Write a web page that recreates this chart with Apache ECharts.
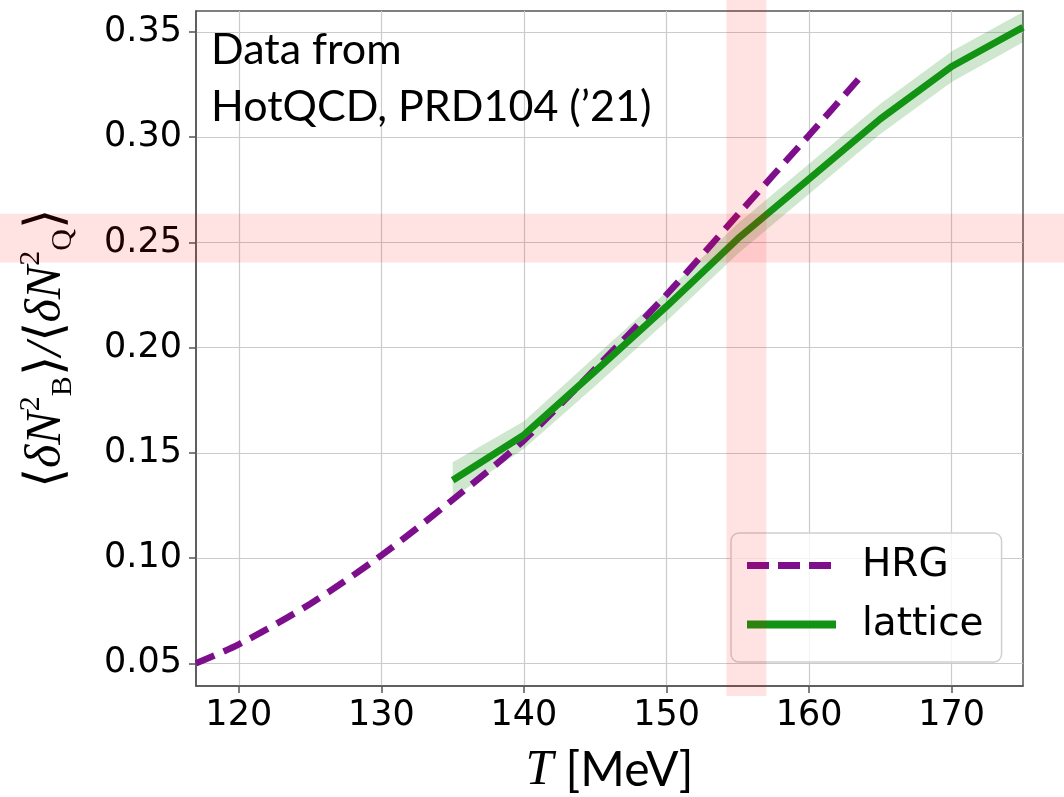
<!DOCTYPE html>
<html>
<head>
<meta charset="utf-8">
<script src="https://cdn.jsdelivr.net/npm/echarts@6/dist/echarts.min.js"></script>
<style>
  html, body { margin: 0; padding: 0; background: #fff; }
  #chart { width: 1064px; height: 797px; }
</style>
</head>
<body>
<div id="chart"></div>
<script>
// HRG curve
const hrgT = [117, 120, 125, 130, 135, 140, 145, 150, 155, 160, 163.7];
const hrgR = [0.0500, 0.0590, 0.0782, 0.1013, 0.1277, 0.1560, 0.1900, 0.2252, 0.2632, 0.3010, 0.3294];

// lattice (HotQCD) central values and error half-widths
const latT = [135, 140, 145, 150, 155, 160, 165, 170, 175];
const latR = [0.1370, 0.1585, 0.1888, 0.2196, 0.2518, 0.2802, 0.3087, 0.3336, 0.3523];
const latErr = [0.0085, 0.0065, 0.0070, 0.0070, 0.0072, 0.0072, 0.0072, 0.0073, 0.0072];

// axis ticks
const xTicks = [120, 130, 140, 150, 160, 170];
const yTicks = [0.05, 0.10, 0.15, 0.20, 0.25, 0.30, 0.35];
const xRange = [117, 175];
const yRange = [0.0392, 0.36];

// pseudo-critical bands
const tcBand = [154.2, 157.0];
const ratioBand = [0.2405, 0.2636];
const tcBandBottom = 0.0345;

const chart = echarts.init(document.getElementById('chart'));

const hrgData = hrgT.map((t, i) => [t, hrgR[i]]);
const latData = latT.map((t, i) => [t, latR[i]]);

const tickFont = { fontFamily: 'DejaVu Sans', fontSize: 35, color: '#000' };
const axisColor = '#555';
const purple = '#7d0e8c';
const green = '#139313';
const noSymbol = { color: 'rgba(0,0,0,0)', borderColor: 'rgba(0,0,0,0)', borderWidth: 0 };

const option = {
  animation: false,
  title: {
    text: 'Data from\nHotQCD, PRD104 (\u201921)',
    left: 211,
    top: 22,
    padding: 0,
    textStyle: { fontFamily: 'Lato', fontSize: 43, fontWeight: 'normal', color: '#000', lineHeight: 57 }
  },
  grid: {
    left: 196, top: 11, right: 41, bottom: 111,
    outerBoundsMode: 'none',
    containLabel: false,
    show: true, borderColor: axisColor, borderWidth: 1.5
  },
  legend: {
    orient: 'vertical',
    left: 731,
    top: 533,
    padding: [13, 18, 18, 12],
    itemWidth: 89,
    itemHeight: 40,
    itemGap: 20,
    backgroundColor: 'rgba(255,255,255,0.8)',
    borderColor: '#d0d0d0',
    borderWidth: 1.5,
    borderRadius: 8,
    textStyle: { fontFamily: 'DejaVu Sans', fontSize: 39, color: '#000', padding: [0, 0, 0, 21] },
    data: [
      { name: 'HRG', itemStyle: noSymbol, lineStyle: { width: 7, type: [22, 9], color: purple } },
      { name: 'lattice', itemStyle: noSymbol, lineStyle: { width: 8, type: 'solid', color: green } }
    ]
  },
  xAxis: {
    type: 'value',
    min: xRange[0], max: xRange[1],
    name: '{it|T} [MeV]',
    nameLocation: 'middle',
    nameGap: 60,
    nameTextStyle: {
      fontFamily: 'Lato', fontSize: 48, color: '#000',
      rich: { it: { fontFamily: 'Liberation Serif', fontStyle: 'italic', fontSize: 50 } }
    },
    axisLine: { show: true, lineStyle: { color: axisColor, width: 1.5 } },
    axisTick: { show: true, length: 7, customValues: xTicks, lineStyle: { color: axisColor, width: 1.5 } },
    axisLabel: { ...tickFont, margin: 12, customValues: xTicks },
    splitLine: { show: true, lineStyle: { color: '#cbcbcb', width: 1.2 } }
  },
  yAxis: {
    type: 'value',
    min: yRange[0], max: yRange[1],
    name: '{b|\u27e8}{i|\u03b4N}{sup|2}{sub|B}{b|\u27e9}{i|/}{b|\u27e8}{i|\u03b4N}{sup|2}{sub|Q}{b|\u27e9}',
    nameLocation: 'middle',
    nameRotate: 90,
    nameGap: 118,
    nameTextStyle: {
      fontFamily: 'Liberation Serif', fontSize: 46, color: '#000', lineHeight: 62,
      rich: {
        b: { fontFamily: 'DejaVu Sans', fontWeight: 'lighter', fontSize: 52, lineHeight: 62 },
        i: { fontFamily: 'Liberation Serif', fontStyle: 'italic', fontSize: 50, lineHeight: 62 },
        sup: { fontFamily: 'Liberation Serif', fontSize: 30, verticalAlign: 'top', lineHeight: 62 },
        sub: { fontFamily: 'Liberation Serif', fontSize: 30, verticalAlign: 'bottom', lineHeight: 62 }
      }
    },
    axisLine: { show: true, lineStyle: { color: axisColor, width: 1.5 } },
    axisTick: { show: true, length: 7, customValues: yTicks, lineStyle: { color: axisColor, width: 1.5 } },
    axisLabel: { ...tickFont, margin: 14, customValues: yTicks, formatter: v => v.toFixed(2) },
    splitLine: { show: true, lineStyle: { color: '#cbcbcb', width: 1.2 } }
  },
  series: [
    {
      name: 'lattice band',
      type: 'custom',
      silent: true,
      z: 1,
      data: [0],
      renderItem: function (params, api) {
        const up = latT.map((t, i) => api.coord([t, latR[i] + latErr[i]]));
        const lo = latT.map((t, i) => api.coord([t, latR[i] - latErr[i]])).reverse();
        return {
          type: 'polygon',
          shape: { points: up.concat(lo) },
          style: { fill: 'rgba(0,128,0,0.19)' }
        };
      },
      clip: true
    },
    {
      name: 'HRG',
      type: 'line',
      data: hrgData,
      smooth: 0.3,
      symbol: 'none',
      z: 3,
      lineStyle: { color: purple, width: 6.5, type: [20, 10] },
      itemStyle: { color: purple }
    },
    {
      name: 'lattice',
      type: 'line',
      data: latData,
      symbol: 'none',
      z: 4,
      lineStyle: { color: green, width: 7 },
      itemStyle: { color: green }
    }
  ]
};

chart.setOption(option);

// translucent bands drawn over everything, positioned through the axes
const px = v => chart.convertToPixel({ xAxisIndex: 0 }, v);
const py = v => chart.convertToPixel({ yAxisIndex: 0 }, v);
const x0 = px(tcBand[0]), x1 = px(tcBand[1]);
const yb = py(tcBandBottom);
const h0 = py(ratioBand[1]), h1 = py(ratioBand[0]);
chart.setOption({
  graphic: [
    {
      type: 'rect', z: 100, silent: true,
      shape: { x: x0, y: 0, width: x1 - x0, height: yb },
      style: { fill: 'rgba(255,0,0,0.115)' }
    },
    {
      type: 'rect', z: 100, silent: true,
      shape: { x: 0, y: h0, width: chart.getWidth(), height: h1 - h0 },
      style: { fill: 'rgba(255,0,0,0.115)' }
    }
  ]
});
</script>
</body>
</html>
